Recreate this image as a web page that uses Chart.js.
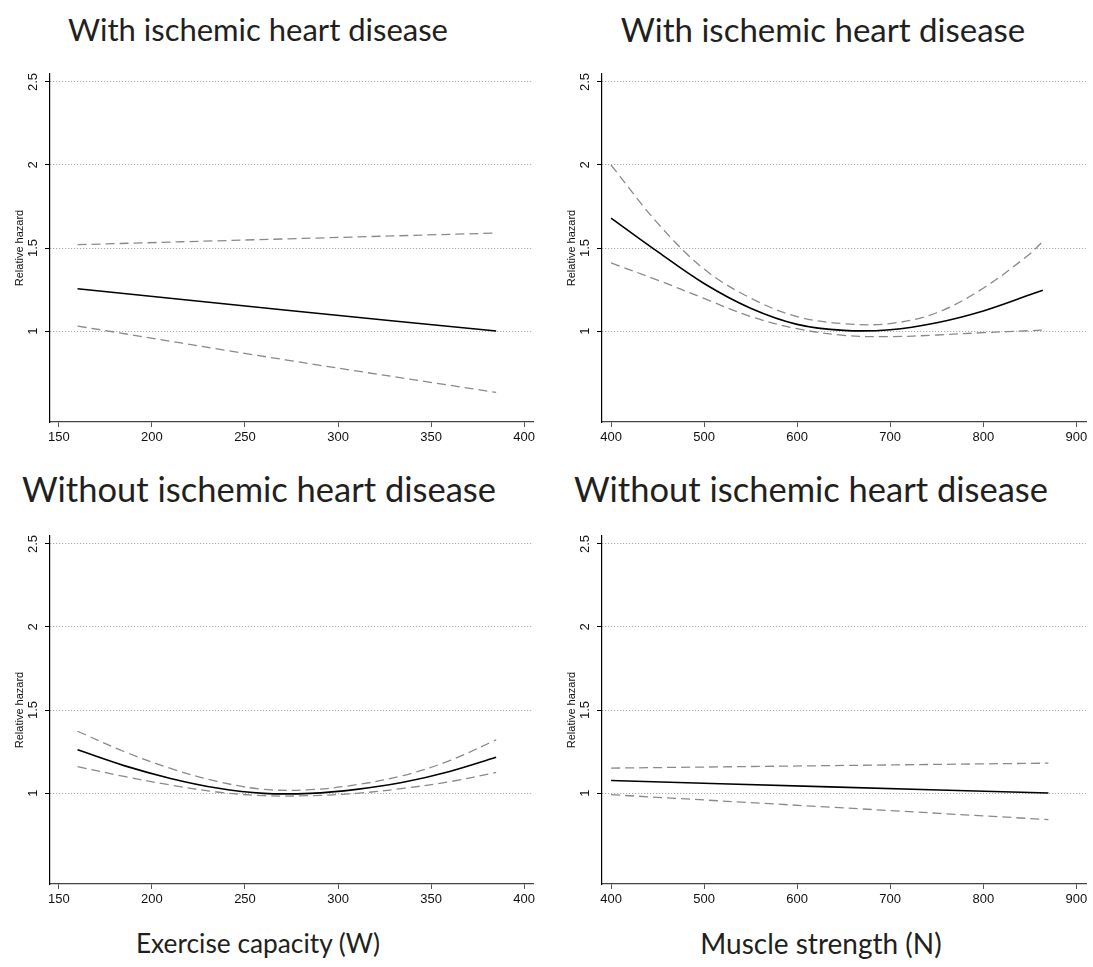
<!DOCTYPE html>
<html><head><meta charset="utf-8">
<script src="https://cdn.jsdelivr.net/npm/chart.js@4.4.0/dist/chart.umd.min.js"></script>
<style>
html,body{margin:0;padding:0;background:#fff;}
body{width:1093px;height:967px;position:relative;overflow:hidden;}
canvas{position:absolute;}
.t{position:absolute;font-family:Lato,'Open Sans',sans-serif;font-weight:400;color:#231f20;white-space:nowrap;line-height:1;transform:translateX(-50%);}
</style></head><body>
<div class="t" style="left:258px;top:14px;font-size:31px">With ischemic heart disease</div>
<div class="t" style="left:823px;top:13px;font-size:33px">With ischemic heart disease</div>
<div class="t" style="left:259px;top:472px;font-size:34.5px">Without ischemic heart disease</div>
<div class="t" style="left:811px;top:472px;font-size:34.5px">Without ischemic heart disease</div>
<div class="t" style="left:258px;top:930px;font-size:26.3px">Exercise capacity (W)</div>
<div class="t" style="left:821px;top:929px;font-size:28px">Muscle strength (N)</div>
<canvas id="c1" width="546" height="400" style="left:0;top:60px"></canvas>
<canvas id="c2" width="541" height="400" style="left:552px;top:60px"></canvas>
<canvas id="c3" width="546" height="400" style="left:0;top:522px"></canvas>
<canvas id="c4" width="541" height="400" style="left:552px;top:522px"></canvas>
<script>
// ---- tick values and labels ----
const yTicks = [1, 1.5, 2, 2.5];
const yTickLabels = ['1', '1.5', '2', '2.5'];
const capTicks = [150, 200, 250, 300, 350, 400];
const strTicks = [400, 500, 600, 700, 800, 900];

// ---- Exercise capacity, with ischemic heart disease ----
const capIhdX     = [160, 272.5, 385];
const capIhdHR    = [1.255, 1.125, 1.0];
const capIhdUpper = [1.52, 1.555, 1.59];
const capIhdLower = [1.03, 0.825, 0.63];

// ---- Muscle strength, with ischemic heart disease ----
const strIhdX     = [400, 450, 500, 550, 600, 650, 700, 750, 800, 850, 864];
const strIhdHR    = [1.68, 1.478, 1.286, 1.137, 1.04, 1.004, 1.008, 1.05, 1.121, 1.218, 1.246];
const strIhdUpper = [2.0, 1.65, 1.373, 1.198, 1.087, 1.044, 1.045, 1.11, 1.258, 1.464, 1.54];
const strIhdLower = [1.41, 1.307, 1.196, 1.087, 1.014, 0.974, 0.966, 0.976, 0.99, 1.002, 1.006];

// ---- Exercise capacity, without ischemic heart disease ----
const capNoX     = [160, 185, 210, 235, 260, 285, 310, 335, 360, 385];
const capNoHR    = [1.26, 1.165, 1.088, 1.03, 0.998, 0.998, 1.022, 1.065, 1.13, 1.215];
const capNoUpper = [1.372, 1.25, 1.148, 1.07, 1.022, 1.02, 1.05, 1.105, 1.195, 1.32];
const capNoLower = [1.159, 1.1, 1.048, 1.006, 0.984, 0.984, 0.998, 1.028, 1.068, 1.124];

// ---- Muscle strength, without ischemic heart disease ----
const strNoX     = [400, 635, 870];
const strNoHR    = [1.075, 1.037, 1.0];
const strNoUpper = [1.15, 1.165, 1.18];
const strNoLower = [0.99, 0.915, 0.84];

const FONT = "'Liberation Sans', Arial, Helvetica, sans-serif";

function pts(xs, ys) { return xs.map((x, i) => ({x: x, y: ys[i]})); }

function panel(id, xMin, xMax, xTicks, padRight, xs, est, up, lo) {
  const dashed = {borderColor: '#8a8a8a', borderWidth: 1.3, borderDash: [9, 5]};
  new Chart(document.getElementById(id), {
    type: 'line',
    data: {datasets: [
      Object.assign({data: pts(xs, up)}, dashed),
      Object.assign({data: pts(xs, lo)}, dashed),
      {data: pts(xs, est), borderColor: '#000', borderWidth: 1.6}
    ]},
    options: {
      responsive: false, animation: false, events: [],
      layout: {padding: {top: 14, right: padRight, left: 0, bottom: 0}},
      elements: {point: {radius: 0}, line: {tension: 0.35, fill: false}},
      plugins: {legend: {display: false}, tooltip: {enabled: false}, title: {display: false}},
      scales: {
        x: {
          type: 'linear', min: xMin, max: xMax,
          afterBuildTicks: s => { s.ticks = xTicks.map(v => ({value: v})); },
          afterFit: s => { s.height = 38; },
          grid: {drawOnChartArea: false, drawTicks: true, tickLength: 5, tickColor: '#555', tickWidth: 1},
          border: {color: '#444', width: 1.3},
          ticks: {font: {family: FONT, size: 13}, color: '#111', padding: 3, maxRotation: 0, autoSkip: false}
        },
        y: {
          type: 'linear', min: 0.452, max: 2.548,
          afterBuildTicks: s => { s.ticks = yTicks.map(v => ({value: v})); },
          afterFit: s => { s.width = 50; },
          grid: {color: '#9a9a9a', lineWidth: 1, tickLength: 5, tickColor: '#000', tickWidth: 1},
          border: {color: '#000', width: 1.2, dash: [1, 2]},
          ticks: {
            font: {family: FONT, size: 13}, color: '#111', padding: 3,
            minRotation: 90, maxRotation: 90, crossAlign: 'center', autoSkip: false,
            callback: v => { const i = yTicks.indexOf(v); return i >= 0 ? yTickLabels[i] : ''; }
          },
          title: {display: true, text: 'Relative hazard', font: {family: FONT, size: 11}, color: '#111', padding: {top: 13, bottom: 0}}
        }
      }
    }
  });
}

panel('c1', 145.2, 404.8, capTicks, 13, capIhdX, capIhdHR, capIhdUpper, capIhdLower);
panel('c2', 390.3, 910.4, strTicks, 7, strIhdX, strIhdHR, strIhdUpper, strIhdLower);
panel('c3', 145.2, 404.8, capTicks, 13, capNoX, capNoHR, capNoUpper, capNoLower);
panel('c4', 390.3, 910.4, strTicks, 7, strNoX, strNoHR, strNoUpper, strNoLower);
</script>
</body></html>
